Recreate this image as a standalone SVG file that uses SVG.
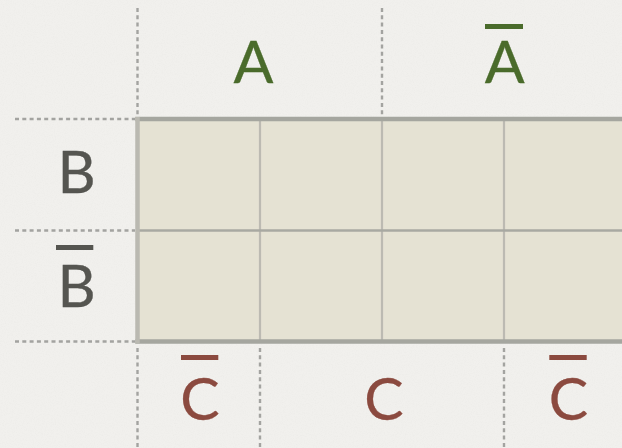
<svg xmlns="http://www.w3.org/2000/svg" width="622" height="448" viewBox="0 0 622 448">
  <defs>
    <filter id="paper" x="0" y="0" width="100%" height="100%">
      <feTurbulence type="fractalNoise" baseFrequency="0.9" numOctaves="3" seed="4" result="n"/>
      <feColorMatrix type="matrix" values="0 0 0 0 0.5  0 0 0 0 0.5  0 0 0 0 0.48  0 0 0 -1.2 0.7" in="n"/>
    </filter>
    <style>
      .dash { stroke: #a3a3a0; stroke-width: 2.4; stroke-dasharray: 4 3.3; fill: none; }
      .cell { fill: #e5e2d3; }
      .inner { stroke: #bcbab2; stroke-width: 2.2; fill: none; }
      .border { stroke: #a5a69f; stroke-width: 4.5; fill: none; }
      .lbl { font-family: Lato, "Liberation Sans", sans-serif; font-size: 59px; text-anchor: middle; stroke-width: 0.3; }
      .a { fill: #4a6b2b; stroke: #4a6b2b; }
      .b { fill: #555550; stroke: #555550; }
      .c { fill: #8b4a3f; stroke: #8b4a3f; }
      .barA { fill: #4a6b2b; }
      .barB { fill: #555550; }
      .barC { fill: #8b4a3f; }
    </style>
  </defs>
  <rect width="622" height="448" fill="#f1f0ed"/>
  <rect width="622" height="448" filter="url(#paper)" opacity="0.12"/>

  <g id="connectors">
    <line class="dash" x1="137.5" y1="8" x2="137.5" y2="117"/>
    <line class="dash" x1="382" y1="8" x2="382" y2="117"/>
    <line class="dash" x1="15" y1="119" x2="135" y2="119"/>
    <line class="dash" x1="15" y1="230.5" x2="135" y2="230.5"/>
    <line class="dash" x1="15" y1="341.5" x2="135" y2="341.5"/>
    <line class="dash" x1="137.5" y1="348" x2="137.5" y2="448"/>
    <line class="dash" x1="260" y1="348" x2="260" y2="448"/>
    <line class="dash" x1="504" y1="348" x2="504" y2="448"/>
  </g>

  <g id="map">
    <rect class="cell" x="137.5" y="119" width="500" height="222.5"/>
    <line class="inner" x1="260" y1="119" x2="260" y2="341.5"/>
    <line class="inner" x1="382" y1="119" x2="382" y2="341.5"/>
    <line class="inner" x1="504" y1="119" x2="504" y2="341.5"/>
    <line x1="137.5" y1="230.5" x2="640" y2="230.5" stroke="#a8a9a2" stroke-width="2.4"/>
    <line class="border" x1="135.3" y1="119" x2="640" y2="119"/>
    <line class="border" x1="135.3" y1="341.5" x2="640" y2="341.5"/>
    <line x1="137.5" y1="117" x2="137.5" y2="343.5" stroke="#bab9b1" stroke-width="4.5"/>
  </g>

  <g id="label-A">
    <text class="lbl a" x="253.5" y="82.7">A</text>
  </g>
  <g id="label-notA">
    <rect class="barA" x="485" y="24" width="38" height="5"/>
    <text class="lbl a" x="504.7" y="82.7">A</text>
  </g>
  <g id="label-B">
    <text class="lbl b" x="76.5" y="193.3">B</text>
  </g>
  <g id="label-notB">
    <rect class="barB" x="56" y="245" width="37.3" height="5"/>
    <text class="lbl b" x="76.5" y="306.7">B</text>
  </g>
  <g id="label-notC-left">
    <rect class="barC" x="181" y="355" width="37.3" height="5"/>
    <text class="lbl c" x="200" y="420">C</text>
  </g>
  <g id="label-C">
    <text class="lbl c" x="384" y="420">C</text>
  </g>
  <g id="label-notC-right">
    <rect class="barC" x="549.3" y="355" width="37.4" height="5"/>
    <text class="lbl c" x="568.5" y="420">C</text>
  </g>
</svg>
